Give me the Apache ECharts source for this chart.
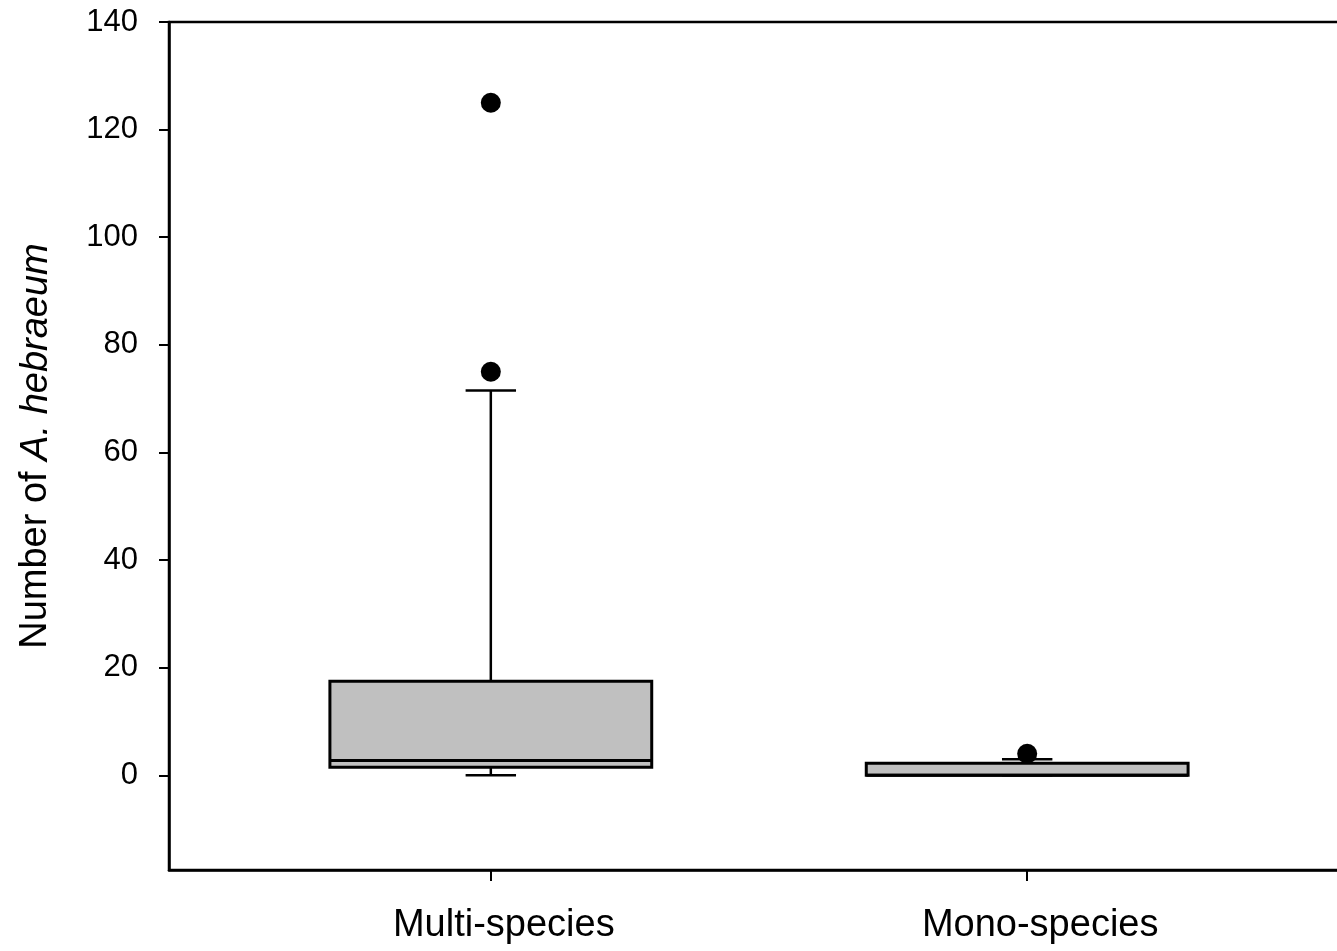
<!DOCTYPE html>
<html>
<head>
<meta charset="utf-8">
<title>Number of A. hebraeum</title>
<script src="https://cdn.jsdelivr.net/npm/echarts@6/dist/echarts.min.js"></script>
<style>
  html, body { margin: 0; padding: 0; background: #fff; }
  #chart { width: 1337px; height: 951px; }
</style>
</head>
<body>
<div id="chart"></div>
<script>
// Group names and their positions on the x scale
const categories = ['Multi-species', 'Mono-species'];
const positions = [1, 2];

// Box statistics per group
const lowerWhisker = [0, 0];
const q1 = [1.5, 0];
const median = [2.75, 0];
const q3 = [17.5, 2.25];
const upperWhisker = [71.5, 3];

// Points beyond the whiskers
const outliers = [[125, 75], [4]];

// Y tick values
const yTicks = [0, 20, 40, 60, 80, 100, 120, 140];

const FONT = '"Liberation Sans", Arial, sans-serif';
const BOX_HALF = 0.3;   // half box width in x units
const CAP_HALF = 0.047; // half whisker-cap width in x units

const boxData = positions.map((p, i) => [p, lowerWhisker[i], q1[i], median[i], q3[i], upperWhisker[i]]);
const outlierData = [];
outliers.forEach((list, i) => list.forEach(v => outlierData.push([positions[i], v])));

function renderBox(params, api) {
  const x = api.value(0);
  const lo = api.value(1), a = api.value(2), m = api.value(3), b = api.value(4), hi = api.value(5);
  const pL = api.coord([x - BOX_HALF, b]);
  const pR = api.coord([x + BOX_HALF, a]);
  const pc = (v) => api.coord([x, v]);
  const cl = api.coord([x - CAP_HALF, 0])[0];
  const cr = api.coord([x + CAP_HALF, 0])[0];
  const ml = api.coord([x - BOX_HALF, m]);
  const mr = api.coord([x + BOX_HALF, m]);
  const lineStyle = { stroke: '#000', lineWidth: 2.5 };
  const children = [];
  // whiskers and caps
  [[b, hi], [a, lo]].forEach(([from, to]) => {
    const p1 = pc(from), p2 = pc(to);
    children.push({ type: 'line', shape: { x1: p1[0], y1: p1[1], x2: p2[0], y2: p2[1] }, style: lineStyle });
    children.push({ type: 'line', shape: { x1: cl, y1: p2[1], x2: cr, y2: p2[1] }, style: lineStyle });
  });
  // box
  children.push({
    type: 'rect',
    shape: { x: pL[0], y: pL[1], width: pR[0] - pL[0], height: pR[1] - pL[1] },
    style: { fill: '#c0c0c0', stroke: '#000', lineWidth: 3 }
  });
  // median
  children.push({ type: 'line', shape: { x1: ml[0], y1: ml[1], x2: mr[0], y2: mr[1] }, style: { stroke: '#000', lineWidth: 3 } });
  return { type: 'group', children };
}

const chart = echarts.init(document.getElementById('chart'), null, { renderer: 'canvas' });
chart.setOption({
  animation: false,
  backgroundColor: '#fff',
  grid: {
    left: 169, right: -12, top: 22, bottom: 81,
    outerBoundsMode: 'none',
    containLabel: false,
    show: true, borderColor: '#000', borderWidth: 2.5, backgroundColor: 'transparent'
  },
  xAxis: {
    type: 'value', min: 0.4, max: 2.6,
    axisLine: { show: true, onZero: false, lineStyle: { color: '#000', width: 2.5 } },
    axisTick: { show: true, customValues: positions, length: 11, lineStyle: { color: '#000', width: 2 } },
    axisLabel: {
      customValues: positions,
      formatter: (v) => categories[positions.indexOf(v)] || '',
      color: '#000', fontSize: 38, fontFamily: FONT, margin: 37,
      padding: [0, 0, 0, 26]
    },
    splitLine: { show: false }
  },
  yAxis: {
    type: 'value', min: -17.6, max: 140,
    name: '{n|Number of }{i|A. hebraeum}',
    nameLocation: 'middle', nameGap: 114,
    nameTextStyle: {
      color: '#000', fontSize: 38, fontFamily: FONT,
      rich: {
        n: { fontSize: 38, fontFamily: FONT, color: '#000' },
        i: { fontSize: 38, fontFamily: FONT, color: '#000', fontStyle: 'italic' }
      }
    },
    axisLine: { show: true, lineStyle: { color: '#000', width: 2.5 } },
    axisTick: { show: true, customValues: yTicks, length: 10, lineStyle: { color: '#000', width: 2 } },
    axisLabel: { customValues: yTicks, color: '#000', fontSize: 31, fontFamily: FONT, margin: 31 },
    splitLine: { show: false }
  },
  series: [
    {
      type: 'custom',
      renderItem: renderBox,
      encode: { x: 0, y: [1, 2, 3, 4, 5] },
      data: boxData,
      clip: false
    },
    {
      type: 'scatter',
      data: outlierData,
      symbol: 'circle',
      symbolSize: 20,
      itemStyle: { color: '#000', opacity: 1 },
      z: 5
    }
  ]
});
</script>
</body>
</html>
